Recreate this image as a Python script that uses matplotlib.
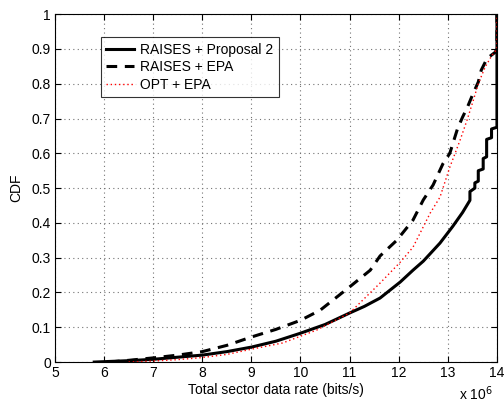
import matplotlib
matplotlib.use("Agg")
import matplotlib.pyplot as plt
from matplotlib.ticker import FuncFormatter

plt.rcParams['font.family'] = ['Liberation Sans', 'DejaVu Sans']

labels = ["RAISES + Proposal 2", "RAISES + EPA", "OPT + EPA"]

# rates in units of 1e6 bits/s
solid_rate = [5.8, 6.5, 7.0, 7.5, 8.0, 8.5, 9.0, 9.5, 10.0, 10.5, 11.0, 11.3, 11.62, 12.03,
              12.29, 12.5, 12.84, 13.1, 13.3, 13.45, 13.45, 13.55, 13.55, 13.62, 13.62,
              13.72, 13.72, 13.79, 13.79, 13.89, 13.89, 14.0, 14.0]
solid_cdf = [0, 0.004, 0.008, 0.014, 0.02, 0.03, 0.043, 0.06, 0.083, 0.108, 0.141, 0.16, 0.184,
             0.23, 0.264, 0.29, 0.342, 0.39, 0.43, 0.465, 0.49, 0.50, 0.515, 0.52, 0.55,
             0.555, 0.585, 0.59, 0.64, 0.645, 0.67, 0.675, 1.0]

dash_rate = [6.1, 6.5, 7.0, 7.5, 8.0, 8.5, 9.0, 9.5, 10.0, 10.4, 11.0, 11.42, 11.62, 11.96,
             12.29, 12.5, 12.7, 12.9, 13.04, 13.2, 13.3, 13.4, 13.5, 13.62, 13.68, 13.8,
             13.96, 14.0, 14.0]
dash_cdf = [0, 0.005, 0.012, 0.02, 0.03, 0.048, 0.072, 0.094, 0.12, 0.149, 0.216, 0.264, 0.305,
            0.35, 0.408, 0.466, 0.509, 0.57, 0.60, 0.672, 0.704, 0.733, 0.767, 0.805, 0.839,
            0.873, 0.89, 0.9, 1.0]

dot_rate = [6.5, 7.0, 7.5, 8.0, 8.5, 9.0, 9.64, 10.33, 11.0, 11.62, 12.03, 12.29, 12.64, 12.84,
            13.04, 13.25, 13.39, 13.52, 13.62, 13.76, 13.9, 14.0, 14.0]
dot_cdf = [0, 0.003, 0.007, 0.013, 0.022, 0.037, 0.055, 0.092, 0.141, 0.227, 0.287, 0.33, 0.428,
           0.474, 0.56, 0.638, 0.695, 0.753, 0.80, 0.848, 0.882, 0.9, 1.0]

scale = 1e6
x_ticks = [5, 6, 7, 8, 9, 10, 11, 12, 13, 14]
y_ticks = [0, 0.1, 0.2, 0.3, 0.4, 0.5, 0.6, 0.7, 0.8, 0.9, 1]

fig = plt.figure(figsize=(5.04, 4.05), dpi=100)
ax = fig.add_axes([0.109, 0.106, 0.877, 0.859])

ax.plot([r * scale for r in solid_rate], solid_cdf, color='black', lw=2.2, ls='-', label=labels[0])
ax.plot([r * scale for r in dash_rate], dash_cdf, color='black', lw=2.2, ls=(0, (3.5, 2.5)), label=labels[1])
ax.plot([r * scale for r in dot_rate], dot_cdf, color='red', lw=1.0, ls=(0, (1, 2)), label=labels[2])

ax.set_xlim(5 * scale, 14 * scale)
ax.set_ylim(0, 1)
ax.set_xticks([t * scale for t in x_ticks])
ax.xaxis.set_major_formatter(FuncFormatter(lambda v, p: f"{v/scale:g}"))
ax.set_yticks(y_ticks)
ax.yaxis.set_major_formatter(FuncFormatter(lambda v, p: f"{v:g}"))

ax.grid(True, color='0.45', ls=(0, (1, 3)), lw=0.8)
ax.tick_params(direction='in', top=True, right=True, labelsize=10, length=4, width=0.8, pad=3)
for s in ax.spines.values():
    s.set_linewidth(0.8)

ax.set_xlabel("Total sector data rate (bits/s)", fontsize=10, labelpad=2)
ax.set_ylabel("CDF", fontsize=10, labelpad=6)
ax.text(0.991, -0.063, "x 10$^6$", transform=ax.transAxes, ha='right', va='top', fontsize=10)

leg = ax.legend(loc='upper left', bbox_to_anchor=(0.104, 0.934), borderaxespad=0,
                fontsize=10, frameon=True, fancybox=False, edgecolor='black',
                handlelength=2.0, labelspacing=0.25, borderpad=0.4, handletextpad=0.4)
leg.get_frame().set_linewidth(0.8)

fig.savefig("out.png", dpi=100)
